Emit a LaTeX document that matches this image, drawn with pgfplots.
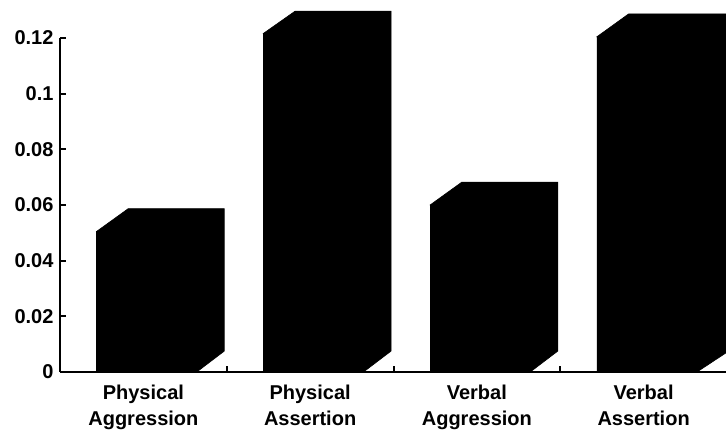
\documentclass[border=0pt]{standalone}
\usepackage{fontspec}
\setmainfont{Liberation Sans}
\usepackage{pgfplots}
\usepackage{pgfplotstable}
\pgfplotsset{compat=1.18}
\pgfplotstableread{
x v
0 0.0505
1 0.1216
2 0.0600
3 0.1204
}\datatable
\begin{document}
\begin{tikzpicture}
\begin{axis}[
  name=ax,
  width=667pt, height=372pt, scale only axis,
  xmin=-0.5, xmax=3.5, ymin=0, ymax=0.1336,
  axis x line=bottom, axis y line=left,
  x axis line style={-, line width=2pt},
  y axis line style={-, line width=2.5pt, shorten >=37.9pt},
  tick align=inside,
  xtick={0,1,2,3},
  xticklabels={{Physical\\Aggression},{Physical\\Assertion},{Verbal\\Aggression},{Verbal\\Assertion}},
  xtick style={draw=none},
  extra x ticks={0.5,1.5,2.5},
  extra x tick labels={},
  extra x tick style={xtick style={draw=black, line width=2pt}, major tick length=6pt},
  ytick={0,0.02,0.04,0.06,0.08,0.1,0.12},
  yticklabels={0,0.02,0.04,0.06,0.08,0.1,0.12},
  ytick style={line width=2pt, black},
  major tick length=6pt,
  /pgf/number format/assume math mode=true,
  ticklabel style={font=\fontsize{20}{26}\selectfont\bfseries},
  xticklabel style={align=center, yshift=-9pt},
  yticklabel style={xshift=-3pt},
]
\addplot[ybar, bar width=0.6, bar shift=0.02, fill=black, draw=black, line width=0.6pt] table[x=x, y=v] {\datatable};
% top and side faces of the bars
\addplot[fill=black, draw=black, line width=0.6pt, mark=none] coordinates {(-0.28,0.0505) (-0.09,0.0587) (0.485,0.0587) (0.485,0.0075) (0.32,0) (0.32,0.0505)} -- cycle;
\addplot[fill=black, draw=black, line width=0.6pt, mark=none] coordinates {(0.72,0.1216) (0.91,0.1296) (1.485,0.1296) (1.485,0.0075) (1.32,0) (1.32,0.1216)} -- cycle;
\addplot[fill=black, draw=black, line width=0.6pt, mark=none] coordinates {(1.72,0.0600) (1.91,0.0682) (2.485,0.0682) (2.485,0.0075) (2.32,0) (2.32,0.0600)} -- cycle;
\addplot[fill=black, draw=black, line width=0.6pt, mark=none] coordinates {(2.72,0.1204) (2.91,0.1286) (3.51,0.1286) (3.51,0.0075) (3.32,0) (3.32,0.1204)} -- cycle;
\end{axis}
\pgfresetboundingbox
\path ([xshift=-60pt,yshift=-59pt]ax.south west) rectangle ([xshift=-1pt]ax.north east);
\end{tikzpicture}
\end{document}
